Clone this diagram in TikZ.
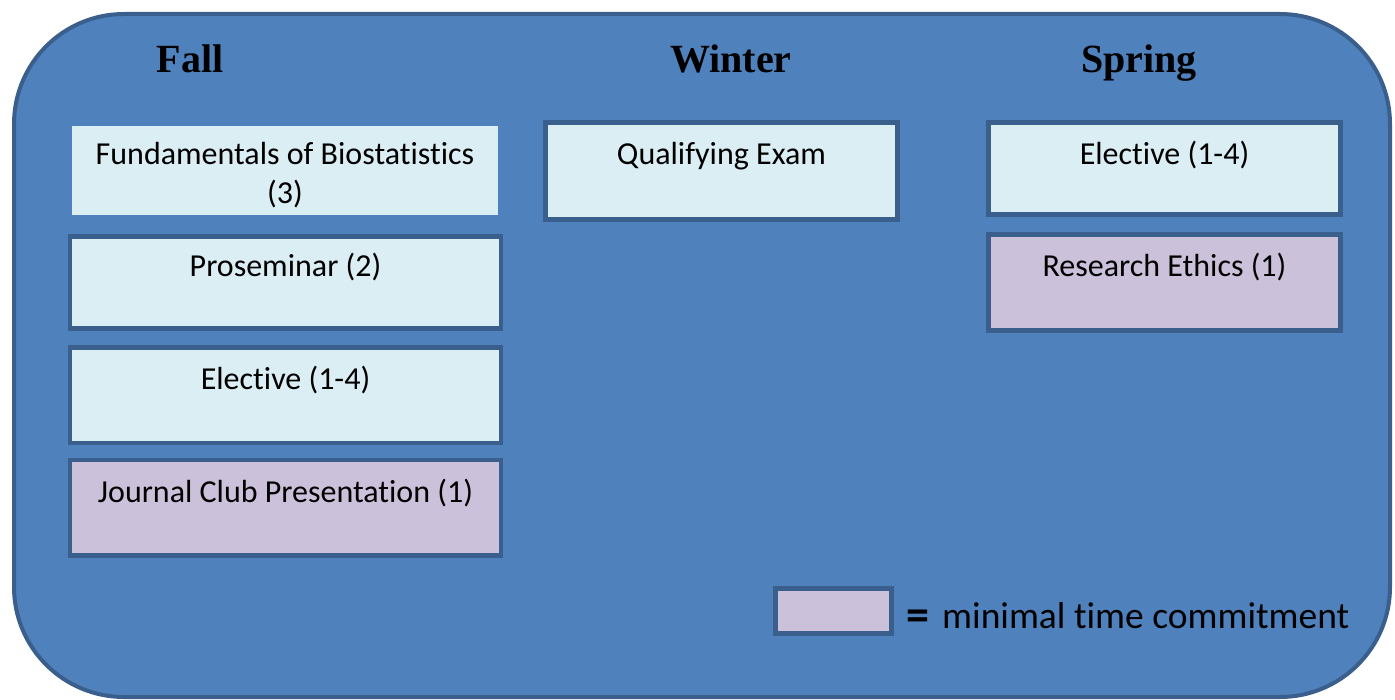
\documentclass[tikz,border=0pt]{standalone}
\usepackage{fontspec}
\setmainfont{Carlito}[Ligatures=CommonOff]
\newfontfamily\titlefont{Liberation Serif}
\definecolor{bgblue}{HTML}{4F81BD}
\definecolor{edgeblue}{HTML}{3A5F8C}
\definecolor{lightbox}{HTML}{DBEEF4}
\definecolor{purplebox}{HTML}{CCC1DA}
\tikzset{
  course/.style={draw=edgeblue, line width=4.5pt, fill=lightbox},
  minimal/.style={draw=edgeblue, line width=4.5pt, fill=purplebox},
  plainbox/.style={fill=lightbox},
  lbl/.style={anchor=base, inner sep=0pt, font=\fontsize{32}{39}\selectfont, align=center},
  season/.style={anchor=base, inner sep=0pt, font=\titlefont\bfseries\fontsize{40}{48}\selectfont},
  legendtxt/.style={anchor=base west, inner sep=0pt, font=\fontsize{37.5}{44}\selectfont}
}
\begin{document}
\begin{tikzpicture}[x=1pt,y=-1pt]
\useasboundingbox (0,0) rectangle (1395,700);
\draw[fill=bgblue, draw=edgeblue, line width=4pt, rounded corners=110pt] (14,14) rectangle (1390,697);

\node[season] (fall) at (190,73) {Fall};
\node[season] (winter) at (731,73) {Winter};
\node[season] (spring) at (1139,73) {Spring};

% Fall column
\path[plainbox] (72,126) rectangle (498,215);
\node[lbl] (fund) at (285,204) {Fundamentals of Biostatistics\\(3)};

\path[course] (70,236.5) rectangle (501,328.5);
\node[lbl] (prosem) at (285.5,277) {Proseminar (2)};

\path[course] (70,347.5) rectangle (501,443);
\node[lbl] (elec1) at (285.5,390) {Elective (1-4)};

\path[minimal] (70,460) rectangle (501,555.5);
\node[lbl] (journal) at (285.5,502) {Journal Club Presentation (1)};

% Winter column
\path[course] (545.5,122.5) rectangle (897.5,219.5);
\node[lbl] (qual) at (721.5,165) {Qualifying Exam};

% Spring column
\path[course] (988.5,122.5) rectangle (1340.5,214.5);
\node[lbl] (elec2) at (1164.5,165) {Elective (1-4)};

\path[minimal] (988.5,234.5) rectangle (1340.5,330.5);
\node[lbl] (ethics) at (1164.5,277) {Research Ethics (1)};

% Legend
\path[minimal] (775.5,588.5) rectangle (891.5,633.5);
\node[legendtxt, font=\bfseries\fontsize{46}{50}\selectfont] (eq) at (906,630) {=};
\node[legendtxt] (legend) at (942,628) {minimal time commitment};
\end{tikzpicture}
\end{document}
